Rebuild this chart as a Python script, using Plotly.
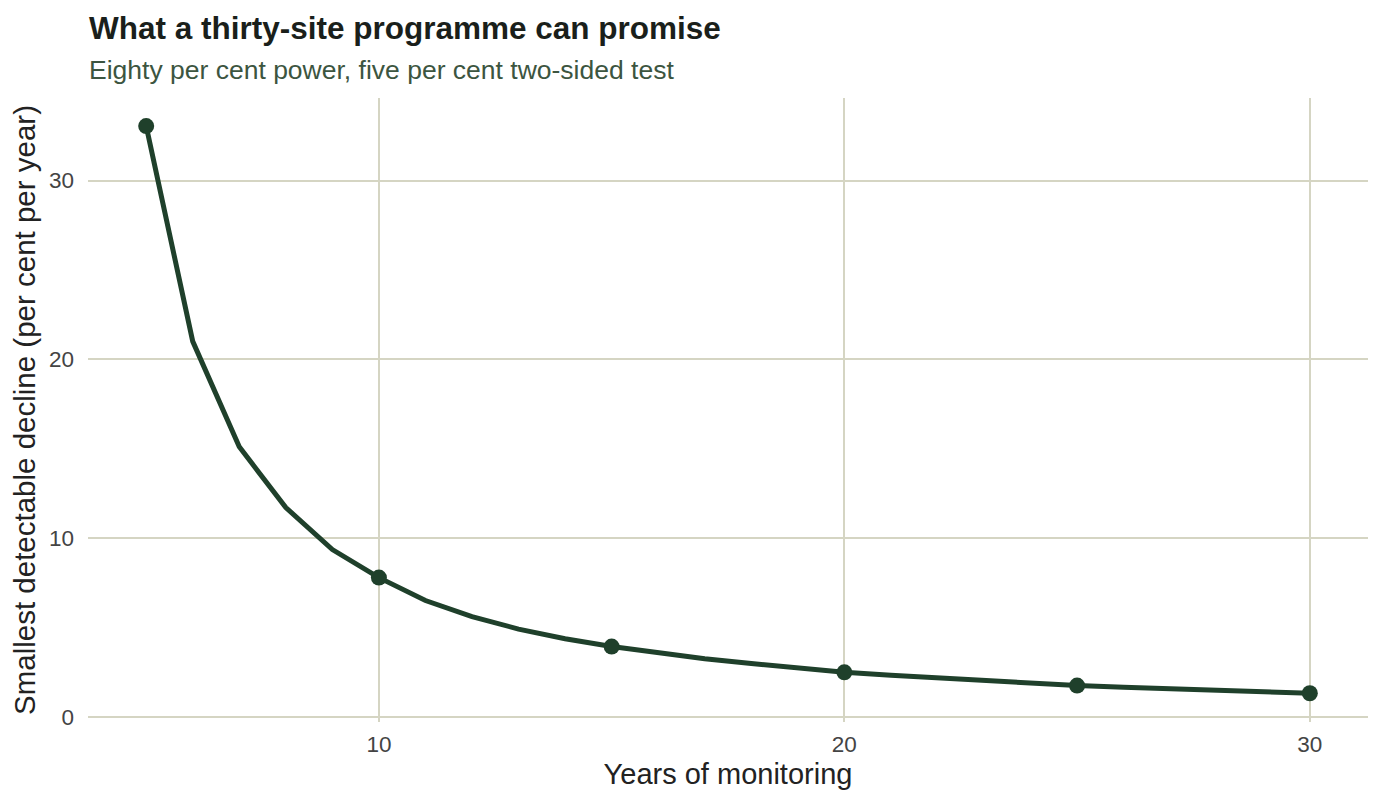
import plotly.graph_objects as go

years = list(range(5, 31))
mdd = [33.05, 21.0, 15.1, 11.7, 9.35, 7.78, 6.5, 5.6, 4.9, 4.36, 3.92,
       3.55, 3.24, 2.97, 2.71, 2.48, 2.31, 2.16, 2.02, 1.88, 1.74,
       1.64, 1.55, 1.46, 1.38, 1.31]
marker_years = [5, 10, 15, 20, 25, 30]
marker_vals = [mdd[years.index(y)] for y in marker_years]

x_ticks = [10, 20, 30]
y_ticks = [0, 10, 20, 30]

title_text = "What a thirty-site programme can promise"
subtitle_text = "Eighty per cent power, five per cent two-sided test"

line_col = "#1f402b"
grid_col = "#d5d5c3"
font_fam = "Liberation Sans, Arial, Helvetica, sans-serif"

W, H = 1382, 806
ML, MR, MT, MB = 88, 14, 98, 84
PH = H - MT - MB
PW = W - ML - MR


def py(pix):
    return (H - MB - pix) / PH


fig = go.Figure()
fig.add_trace(go.Scatter(x=years, y=mdd, mode="lines",
                         line=dict(color=line_col, width=5), hoverinfo="skip"))
fig.add_trace(go.Scatter(x=marker_years, y=marker_vals, mode="markers",
                         marker=dict(color=line_col, size=16)))

fig.add_annotation(text="<b>" + title_text + "</b>", xref="paper", yref="paper",
                   x=(87 - ML) / PW, y=py(27.5), xanchor="left", yanchor="middle",
                   showarrow=False, font=dict(size=31.5, color="#1a1f1b", family=font_fam))
fig.add_annotation(text=subtitle_text, xref="paper", yref="paper",
                   x=(87 - ML) / PW, y=py(69.5), xanchor="left", yanchor="middle",
                   showarrow=False, font=dict(size=26.5, color="#3c5540", family=font_fam))

fig.update_layout(
    width=W, height=H,
    margin=dict(l=ML, r=MR, t=MT, b=MB),
    paper_bgcolor="white", plot_bgcolor="white",
    showlegend=False,
    font=dict(family=font_fam),
    xaxis=dict(range=[3.75, 31.25], tickvals=x_ticks, showgrid=True, gridcolor=grid_col,
               gridwidth=1.5, zeroline=False, showline=False, ticklabelstandoff=6,
               tickfont=dict(size=22.5, color="#444444"),
               title=dict(text="Years of monitoring", font=dict(size=29, color="#222222"), standoff=8)),
    yaxis=dict(range=[-0.3, 34.62], tickvals=y_ticks, showgrid=True, gridcolor=grid_col,
               gridwidth=1.5, zeroline=False, showline=False,
               tickfont=dict(size=22.5, color="#444444"), ticklabelstandoff=13,
               title=dict(text="Smallest detectable decline (per cent per year)",
                          font=dict(size=29.5, color="#222222"), standoff=4)),
)

fig.write_html("out.html")
